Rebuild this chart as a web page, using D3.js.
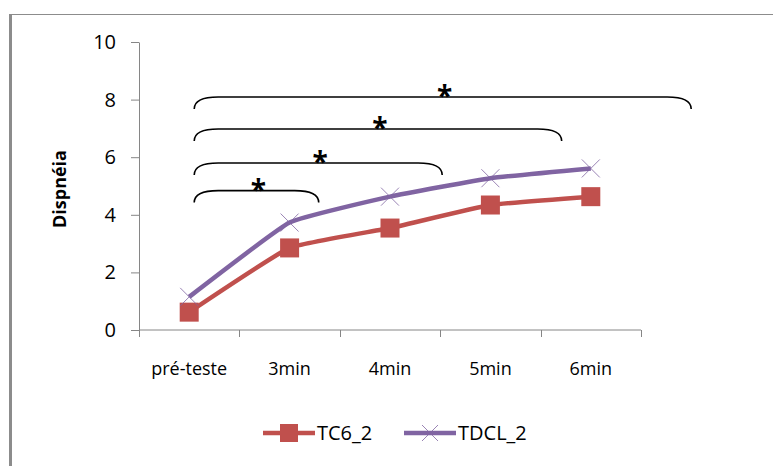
<!DOCTYPE html>
<html>
<head>
<meta charset="utf-8">
<script src="https://cdn.jsdelivr.net/npm/d3@7"></script>
<style>
  body { margin: 0; background: #fff; }
  text { font-family: "Open Sans", sans-serif; }
</style>
</head>
<body>
<svg id="chart"></svg>
<script>
// categories and series
const categories = ["pré-teste", "3min", "4min", "5min", "6min"];
const tc6 = [0.62, 2.85, 3.54, 4.34, 4.63];
const tdcl = [1.15, 3.73, 4.63, 5.27, 5.61];
const yTicks = [0, 2, 4, 6, 8, 10];
const seriesNames = ["TC6_2", "TDCL_2"];
// significance brackets: from / to in category-index units, level in y units
const bracketFrom = [0.05, 0.05, 0.05, 0.05];
const bracketTo = [1.29, 2.52, 3.71, 5.0];
const bracketLevel = [4.84, 5.8, 6.98, 8.09];

const config = {
  width: 773, height: 466,
  margin: { top: 42, bottom: 136, right: 132, left: 139 }
};

const svg = d3.select('#chart')
    .attr('width', config.width)
    .attr('height', config.height);

const w = config.width - config.margin.left - config.margin.right;
const h = config.height - config.margin.top - config.margin.bottom;

// frame (only top and left edges are visible)
svg.append('line')
    .attr('x1', 10).attr('x2', config.width)
    .attr('y1', 14.5).attr('y2', 14.5)
    .attr('stroke', '#8c8c8c').attr('stroke-width', 1.2);
svg.append('line')
    .attr('x1', 10.5).attr('x2', 10.5)
    .attr('y1', 14).attr('y2', config.height)
    .attr('stroke', '#8c8c8c').attr('stroke-width', 3);

const chart = svg.append('g')
    .attr('transform', `translate(${config.margin.left},${config.margin.top})`);

const xScale = d3.scaleBand().domain(categories).range([0, w]);
// continuous version of the category axis, for the brackets
const xIdx = d3.scaleLinear().domain([-0.5, categories.length - 0.5]).range([0, w]);
const yScale = d3.scaleLinear().domain([0, 10]).range([h, 0]);

// Y axis
const yAxisG = chart.append('g')
    .call(d3.axisLeft(yScale).tickValues(yTicks).tickSize(8).tickPadding(15).tickSizeOuter(0));
yAxisG.attr('font-family', null).attr('font-size', null);
yAxisG.select('.domain').attr('stroke', '#868686');
yAxisG.selectAll('.tick line').attr('stroke', '#868686');
yAxisG.selectAll('.tick text')
    .attr('fill', '#000')
    .style('font-size', '20px');

// X axis with ticks on the band boundaries
const xAxisG = chart.append('g')
    .attr('transform', `translate(0,${h})`);
xAxisG.append('line')
    .attr('x1', 0).attr('x2', w)
    .attr('stroke', '#868686');
xAxisG.selectAll('.xtick')
    .data(d3.range(categories.length + 1))
    .join('line')
    .attr('class', 'xtick')
    .attr('x1', d => Math.round(xIdx(d - 0.5)) + 0.5)
    .attr('x2', d => Math.round(xIdx(d - 0.5)) + 0.5)
    .attr('y1', 0).attr('y2', 7)
    .attr('stroke', '#868686');
xAxisG.selectAll('.xlab')
    .data(categories)
    .join('text')
    .attr('class', 'xlab')
    .attr('x', d => xScale(d) + xScale.bandwidth() / 2)
    .attr('y', 45)
    .attr('text-anchor', 'middle')
    .style('font-size', '18px')
    .text(d => d);

// Y axis label
svg.append('text')
    .attr('transform', `translate(66,${config.margin.top + h / 2 + 3}) rotate(-90)`)
    .attr('text-anchor', 'middle')
    .attr('font-weight', 'bold')
    .style('font-size', '18px')
    .text('Dispnéia');

// brackets with stars
const drop = 12, r = 12;
const brackets = bracketFrom.map((f, i) => ({ from: f, to: bracketTo[i], level: bracketLevel[i] }));
chart.selectAll('.bracket')
    .data(brackets)
    .join('path')
    .attr('class', 'bracket')
    .attr('fill', 'none')
    .attr('stroke', '#000')
    .attr('stroke-width', 1.6)
    .attr('d', d => {
      const x0 = xIdx(d.from), x1 = xIdx(d.to), y = yScale(d.level);
      return `M${x0},${y + drop} Q${x0},${y} ${x0 + r * 2},${y} L${x1 - r * 2},${y} Q${x1},${y} ${x1},${y + drop}`;
    });
chart.selectAll('.star')
    .data(brackets)
    .join('text')
    .attr('class', 'star')
    .attr('x', d => (xIdx(d.from) + xIdx(d.to)) / 2 + 2)
    .attr('y', d => yScale(d.level) + 9)
    .attr('text-anchor', 'middle')
    .attr('font-weight', 'bold')
    .style('font-size', '28px')
    .text('*');

// lines
const colors = { TC6_2: '#c0504d', TDCL_2: '#8064a2' };
const series = [
  { name: seriesNames[0], values: tc6 },
  { name: seriesNames[1], values: tdcl }
];
const line = d3.line()
    .x((d, i) => xScale(categories[i]) + xScale.bandwidth() / 2)
    .y(d => yScale(d))
    .curve(d3.curveCardinal.tension(0.65));

chart.selectAll('.line')
    .data(series)
    .join('path')
    .attr('class', 'line')
    .attr('fill', 'none')
    .attr('stroke', d => colors[d.name])
    .attr('stroke-width', 4.5)
    .attr('d', d => line(d.values));

// square markers
chart.selectAll('.sq')
    .data(tc6)
    .join('rect')
    .attr('class', 'sq')
    .attr('x', (d, i) => xScale(categories[i]) + xScale.bandwidth() / 2 - 9.5)
    .attr('y', d => yScale(d) - 9.5)
    .attr('width', 19).attr('height', 19)
    .attr('fill', colors.TC6_2);

// x markers
const xMark = (cx, cy, s) => `M${cx - s},${cy - s}L${cx + s},${cy + s}M${cx - s},${cy + s}L${cx + s},${cy - s}`;
chart.selectAll('.xm')
    .data(tdcl)
    .join('path')
    .attr('class', 'xm')
    .attr('fill', 'none')
    .attr('stroke', colors.TDCL_2)
    .attr('stroke-width', 0.8)
    .attr('d', (d, i) => xMark(xScale(categories[i]) + xScale.bandwidth() / 2, yScale(d), 9));

// legend
const legendY = 433;
const legendX = [263, 404];
const legend = svg.selectAll('.leg')
    .data(series)
    .join('g')
    .attr('class', 'leg')
    .attr('transform', (d, i) => `translate(${legendX[i]},${legendY})`);
legend.append('line')
    .attr('x1', 0).attr('x2', 52)
    .attr('stroke', d => colors[d.name])
    .attr('stroke-width', 4.5);
legend.filter((d, i) => i === 0).append('rect')
    .attr('x', 17).attr('y', -9)
    .attr('width', 18).attr('height', 18)
    .attr('fill', colors.TC6_2);
legend.filter((d, i) => i === 1).append('path')
    .attr('fill', 'none')
    .attr('stroke', colors.TDCL_2)
    .attr('stroke-width', 0.8)
    .attr('d', xMark(26, 0, 8));
legend.append('text')
    .attr('x', 54)
    .attr('y', 7)
    .style('font-size', '20px')
    .text(d => d.name);
</script>
</body>
</html>
